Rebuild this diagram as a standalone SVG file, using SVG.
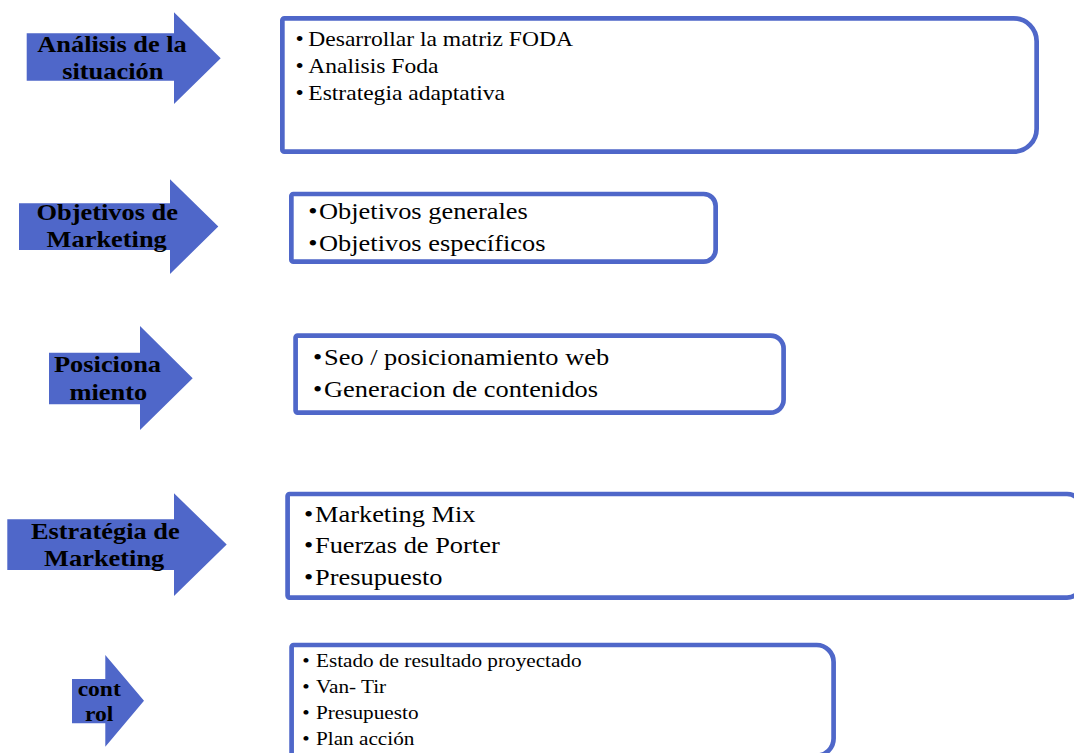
<svg xmlns="http://www.w3.org/2000/svg" width="1074" height="753" viewBox="0 0 1074 753">
<style>
.arrow{fill:#4F67C9;stroke:none}
.box{fill:#fff;stroke:#4F67C9;stroke-width:4.7}
.lbl{font-family:"Liberation Serif","Times New Roman",serif;font-weight:bold;fill:#000;text-anchor:middle}
.item{font-family:"Liberation Serif","Times New Roman",serif;fill:#000}
.bul{text-anchor:middle}
</style>
<rect width="1074" height="753" fill="#fff"/>
<g id="connectors">
<polygon class="arrow" points="26.7,33.3 174,33.3 174,12.3 220.7,58.2 174,104 174,80.7 26.7,80.7"/>
<polygon class="arrow" points="19,203.3 170,203.3 170,179.3 218.3,226.5 170,274 170,250 19,250"/>
<polygon class="arrow" points="49,352.7 140,352.7 140,326 192.7,378.3 140,430 140,404.3 49,404.3"/>
<polygon class="arrow" points="7.3,519.3 174,519.3 174,493.3 226.7,544.5 174,596 174,570 7.3,570"/>
<polygon class="arrow" points="72,679 105.3,679 105.3,655 144,700.7 105.3,746.7 105.3,723.3 72,723.3"/>
</g>
<g id="lbl-analisis">
<text class="lbl" font-size="24" transform="translate(112,51.7) scale(1.1,1)">Análisis de la</text>
<text class="lbl" font-size="24" transform="translate(112.8,79.3) scale(1.1,1)">situación</text>
</g>
<g id="lbl-objetivos">
<text class="lbl" font-size="24" transform="translate(107.2,220) scale(1.1,1)">Objetivos de</text>
<text class="lbl" font-size="24" transform="translate(106.7,246.7) scale(1.1,1)">Marketing</text>
</g>
<g id="lbl-posicionamiento">
<text class="lbl" font-size="24" transform="translate(107.5,371.7) scale(1.1,1)">Posiciona</text>
<text class="lbl" font-size="24" transform="translate(108.3,400) scale(1.1,1)">miento</text>
</g>
<g id="lbl-estrategia">
<text class="lbl" font-size="24" transform="translate(105.3,539.3) scale(1.1,1)">Estratégia de</text>
<text class="lbl" font-size="24" transform="translate(104.2,566) scale(1.1,1)">Marketing</text>
</g>
<g id="lbl-control">
<text class="lbl" font-size="21.4" transform="translate(99.2,696) scale(1.1,1)">cont</text>
<text class="lbl" font-size="21.4" transform="translate(99.2,720.7) scale(1.1,1)">rol</text>
</g>
<g id="box-analisis">
<path class="box" d="M284.35,18.35 H1013.65 A23,23 0 0 1 1036.65,41.35 V128.65 A23,23 0 0 1 1013.65,151.65 H284.35 A2,2 0 0 1 282.35,149.65 V20.35 A2,2 0 0 1 284.35,18.35 Z"/>
<g class="item" font-size="21.4" transform="translate(308.3,0) scale(1.1,1)">
<text class="bul" x="-8" y="46">•</text><text x="0" y="46">Desarrollar la matriz FODA</text>
<text class="bul" x="-8" y="73.3">•</text><text x="0" y="73.3">Analisis Foda</text>
<text class="bul" x="-8" y="100">•</text><text x="0" y="100">Estrategia adaptativa</text>
</g>
</g>
<g id="box-objetivos">
<path class="box" d="M293.35,194 H703.65 A12,12 0 0 1 715.65,206 V249.65 A12,12 0 0 1 703.65,261.65 H293.35 A2,2 0 0 1 291.35,259.65 V196 A2,2 0 0 1 293.35,194 Z"/>
<g class="item" font-size="24" transform="translate(319,0) scale(1.1,1)">
<text class="bul" x="-5.5" y="219.3">•</text><text x="0" y="219.3">Objetivos generales</text>
<text class="bul" x="-5.5" y="250.7">•</text><text x="0" y="250.7">Objetivos específicos</text>
</g>
</g>
<g id="box-posicionamiento">
<path class="box" d="M297.6,335.6 H770.6 A13,13 0 0 1 783.6,348.6 V399.6 A13,13 0 0 1 770.6,412.6 H297.6 A2,2 0 0 1 295.6,410.6 V337.6 A2,2 0 0 1 297.6,335.6 Z"/>
<g class="item" font-size="24" transform="translate(324,0) scale(1.1,1)">
<text class="bul" x="-5.9" y="365.5">•</text><text x="0" y="365.5">Seo / posicionamiento web</text>
<text class="bul" x="-5.9" y="397">•</text><text x="0" y="397">Generacion de contenidos</text>
</g>
</g>
<g id="box-estrategia">
<path class="box" d="M289.6,494 H1067 A15,15 0 0 1 1082,509 V582.6 A15,15 0 0 1 1067,597.6 H289.6 A2,2 0 0 1 287.6,595.6 V496 A2,2 0 0 1 289.6,494 Z"/>
<g class="item" font-size="24" transform="translate(315,0) scale(1.1,1)">
<text class="bul" x="-5.9" y="522">•</text><text x="0" y="522">Marketing Mix</text>
<text class="bul" x="-5.9" y="553.5">•</text><text x="0" y="553.5">Fuerzas de Porter</text>
<text class="bul" x="-5.9" y="585.3">•</text><text x="0" y="585.3">Presupuesto</text>
</g>
</g>
<g id="box-control">
<path class="box" d="M293.6,645 H816.6 A17,17 0 0 1 833.6,662 V738.6 A17,17 0 0 1 816.6,755.6 H293.6 A2,2 0 0 1 291.6,753.6 V647 A2,2 0 0 1 293.6,645 Z"/>
<g class="item" font-size="19.3" transform="translate(316,0) scale(1.1,1)">
<text class="bul" x="-9.1" y="667.3">•</text><text x="0" y="667.3">Estado de resultado proyectado</text>
<text class="bul" x="-9.1" y="693.3">•</text><text x="0" y="693.3">Van- Tir</text>
<text class="bul" x="-9.1" y="719.3">•</text><text x="0" y="719.3">Presupuesto</text>
<text class="bul" x="-9.1" y="745">•</text><text x="0" y="745">Plan acción</text>
</g>
</g>
</svg>
